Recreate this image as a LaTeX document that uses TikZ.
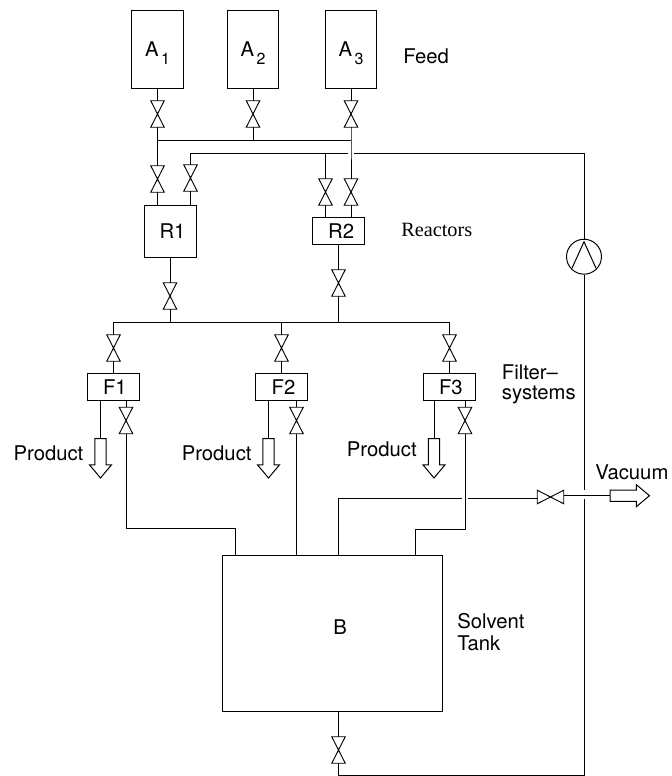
\documentclass[tikz,border=0pt]{standalone}
\usepackage{fontspec}
\setmainfont{TeX Gyre Heros}
\newfontfamily\timesl{Liberation Serif}
\usetikzlibrary{shapes.arrows}
\newcommand{\sansl}{\fontsize{15.2}{18}\selectfont}
\newcommand{\subl}[1]{\smash{\raisebox{-0.42em}{\hspace{1.8pt}\fontsize{12}{12}\selectfont #1}}}
\tikzset{
  x=0.75pt,y=-0.75pt,
  pipe/.style={line width=0.75pt,line cap=butt},
  vessel/.style={draw,line width=0.75pt,inner sep=0pt,font=\sansl},
  tankbox/.style={vessel,minimum width=38.6pt,minimum height=58.5pt},
  reactorone/.style={vessel,minimum width=39pt,minimum height=39pt},
  slim/.style={vessel,minimum width=39pt,minimum height=19.8pt},
  bigtank/.style={vessel,minimum width=165pt,minimum height=117pt},
  valvev/.style={inner sep=0pt,minimum width=9.75pt,minimum height=19.5pt},
  valveh/.style={inner sep=0pt,minimum width=19.5pt,minimum height=9.75pt},
  bowtie/.style={line width=0.7pt,line join=miter},
  pumpc/.style={draw,circle,line width=0.75pt,inner sep=0pt,minimum size=26.2pt},
  blockarrow/.style={draw,single arrow,line width=0.75pt,inner sep=3.9pt,anchor=tail,
    minimum height=29.6pt,minimum width=15.8pt,single arrow head extend=4pt,
    single arrow tip angle=80,single arrow head indent=0pt},
  lab/.style={anchor=base west,inner sep=0pt,font=\sansl},
  serlab/.style={anchor=base west,inner sep=0pt,font=\timesl\fontsize{15.2}{18}\selectfont},
}
\newcommand{\vv}[3]{\node[valvev] (#1) at (#2,#3) {};
  \draw[bowtie] (#1.north west) -- (#1.north east) -- (#1.south west) -- (#1.south east) -- cycle;}
\begin{document}
\begin{tikzpicture}
\useasboundingbox (0,0) rectangle (672,776);
% feed vessels
\node[tankbox] (a1) at (157.5,49) {A\subl{1}};
\node[tankbox] (a2) at (253,49) {A\subl{2}};
\node[tankbox] (a3) at (351,49) {A\subl{3}};
% reactors
\node[reactorone] (r1) at (170.5,231) {\hspace{3pt}R1};
\node[slim] (r2) at (338.5,231) {\hspace{4pt}R2};
% filters
\node[slim] (f1) at (113.5,387) {\hspace{2pt}F1};
\node[slim] (f2) at (281.5,387) {\hspace{3pt}F2};
\node[slim] (f3) at (449.5,387) {\hspace{2pt}F3};
% solvent tank
\node[bigtank] (b) at (332,633) {};
\node[lab] (blabel) at (333,634) {B};
% valves
\vv{va1}{157.5}{114}
\vv{va2}{253}{114}
\vv{va3}{351}{114}
\vv{vr1a}{157.5}{179}
\vv{vr1b}{190.5}{178}
\vv{vr2a}{325.5}{192}
\vv{vr2b}{351}{192}
\vv{vr1o}{170}{296}
\vv{vr2o}{338.5}{283}
\vv{vf1i}{113.5}{348}
\vv{vf2i}{281.5}{348}
\vv{vf3i}{449.5}{348}
\vv{vf1o}{126}{420.5}
\vv{vf2o}{296.5}{420.5}
\vv{vf3o}{465}{420.5}
\vv{vb}{338.5}{750}
\node[valveh] (vvac) at (550.5,497) {};
\draw[bowtie] (vvac.north west) -- (vvac.south west) -- (vvac.north east) -- (vvac.south east) -- cycle;
% pump
\node[pumpc] (pump) at (584,256.7) {};
\draw[pipe,shift={(pump)}] (-12,11.5) -- (0,-15) -- (12,11.5);
% junctions
\coordinate (busl) at (157.5,140);
\coordinate (busr) at (351,140);
\coordinate (ret) at (584,153);
\coordinate (retl) at (190.5,153);
\coordinate (low) at (113.5,322);
\coordinate (lowr) at (449.5,322);
\coordinate (corner) at (584,775);
% feed lines
\draw[pipe] (a1.south -| va1) -- (va1.north);
\draw[pipe] (a2.south -| va2) -- (va2.north);
\draw[pipe] (a3.south -| va3) -- (va3.north);
\draw[pipe] (va1.south) -- (busl) -- (busr);
\draw[pipe] (va2.south) -- (va2.south |- busl);
\draw[pipe] (va3.south) -- (busr) -- (vr2b.north);
\draw[pipe] (busl) -- (vr1a.north);
\draw[pipe] (vr1a.south) -- (vr1a.south |- r1.north);
\draw[pipe] (vr1b.south) -- (vr1b.south |- r1.north);
\draw[pipe] (vr2a.south) -- (vr2a.south |- r2.north);
\draw[pipe] (vr2b.south) -- (vr2b.south |- r2.north);
% return line with crossing gap
\draw[pipe] (vr1b.north) -- (retl) -- (348,153);
\draw[pipe] (vr2a.north) -- (vr2a.north |- retl);
\draw[pipe] (354,153) -- (ret) -- (pump.north);
\draw[pipe] (pump.south) -- (584,490);
\draw[pipe] (584,499) -- (corner) -- (vb.south |- corner) -- (vb.south);
\draw[pipe] (vb.north) -- (vb.north |- b.south);
% reactor outlets
\draw[pipe] (vr1o.north) -- (vr1o.north |- r1.south);
\draw[pipe] (vr1o.south) -- (vr1o.south |- low);
\draw[pipe] (vr2o.north) -- (r2.south);
\draw[pipe] (vr2o.south) -- (vr2o.south |- low);
\draw[pipe] (low) -- (lowr);
\draw[pipe] (low) -- (vf1i.north);
\draw[pipe] (vf2i.north |- low) -- (vf2i.north);
\draw[pipe] (lowr) -- (vf3i.north);
\draw[pipe] (vf1i.south) -- (f1.north);
\draw[pipe] (vf2i.south) -- (f2.north);
\draw[pipe] (vf3i.south) -- (f3.north);
% product arrows
\node[blockarrow,rotate=-90] (p1) at (100.5,438) {};
\node[blockarrow,rotate=-90] (p2) at (268.5,438) {};
\node[blockarrow,rotate=-90] (p3) at (434,438) {};
\draw[pipe] (p1.tail) -- (p1.tail |- f1.south);
\draw[pipe] (p2.tail) -- (p2.tail |- f2.south);
\draw[pipe] (p3.tail) -- (p3.tail |- f3.south);
% filter returns
\draw[pipe] (vf1o.north) -- (vf1o.north |- f1.south);
\draw[pipe] (vf2o.north) -- (vf2o.north |- f2.south);
\draw[pipe] (vf3o.north) -- (vf3o.north |- f3.south);
\draw[pipe] (vf1o.south) |- (235,528) -- (235,555.5);
\draw[pipe] (vf2o.south) -- (vf2o.south |- b.north);
\draw[pipe] (vf3o.south) |- (415.7,529) -- (415.7,555.5);
% vacuum
\node[blockarrow] (pvac) at (609.5,495.7) {};
\draw[pipe] (338.5,555.5) |- (462,498.3);
\draw[pipe] (468,498.3) -- (537.5,498.3);
\draw[pipe] (563.5,495.7) -- (pvac.tail);
% labels
\node[lab] (lfeed) at (403,63) {Feed};
\node[serlab] (lreact) at (401,236) {Reactors};
\node[lab] (lf1) at (501.7,379) {Filter--};
\node[lab] (lf2) at (501.7,399) {systems};
\node[lab] (lp1) at (13.3,460) {Product};
\node[lab] (lp2) at (181.5,460) {Product};
\node[lab] (lp3) at (346.7,456.7) {Product};
\node[lab] (lvac) at (595,479) {Vacuum};
\node[lab] (ls1) at (457,628) {Solvent};
\node[lab] (ls2) at (457,650) {Tank};
\end{tikzpicture}
\end{document}
